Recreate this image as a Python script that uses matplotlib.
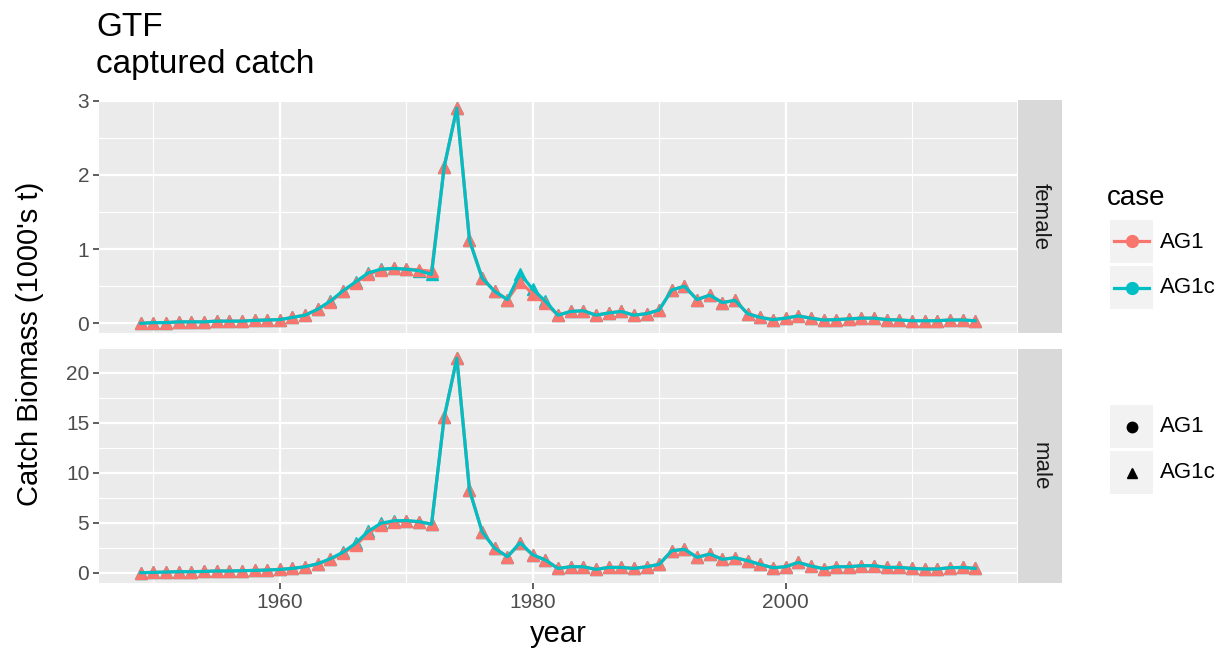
import numpy as np
import matplotlib
matplotlib.use("Agg")
import matplotlib.pyplot as plt
from matplotlib.lines import Line2D

plt.rcParams['font.family'] = ['Liberation Sans', 'DejaVu Sans']

# ---- data ----
years = list(range(1949, 2016))

female_AG1 = [0.00, 0.01, 0.01, 0.02, 0.02, 0.02, 0.03, 0.03, 0.03, 0.04, 0.045,
              0.05, 0.08, 0.11, 0.19, 0.29, 0.43, 0.55, 0.66, 0.72, 0.74, 0.73,
              0.72, 0.70, 2.11, 2.90, 1.12, 0.61, 0.43, 0.32, 0.56, 0.40, 0.27,
              0.11, 0.16, 0.17, 0.11, 0.14, 0.16, 0.11, 0.13, 0.18, 0.45, 0.50,
              0.32, 0.38, 0.28, 0.31, 0.13, 0.08, 0.05, 0.07, 0.10, 0.07, 0.045,
              0.05, 0.06, 0.07, 0.07, 0.05, 0.045, 0.035, 0.035, 0.035, 0.045,
              0.045, 0.035]
female_AG1c = [0.00, 0.01, 0.01, 0.02, 0.02, 0.02, 0.03, 0.03, 0.03, 0.04, 0.045,
               0.05, 0.08, 0.11, 0.19, 0.30, 0.44, 0.56, 0.68, 0.73, 0.74, 0.73,
               0.71, 0.66, 2.11, 2.90, 1.12, 0.61, 0.43, 0.32, 0.67, 0.46, 0.30,
               0.11, 0.16, 0.17, 0.11, 0.14, 0.16, 0.11, 0.13, 0.18, 0.45, 0.50,
               0.32, 0.38, 0.28, 0.31, 0.13, 0.08, 0.05, 0.07, 0.10, 0.07, 0.045,
               0.05, 0.06, 0.07, 0.07, 0.05, 0.045, 0.035, 0.035, 0.035, 0.045,
               0.045, 0.035]

male_AG1 = [0.00, 0.03, 0.07, 0.10, 0.10, 0.13, 0.17, 0.17, 0.20, 0.23, 0.27,
            0.33, 0.43, 0.60, 0.87, 1.33, 1.94, 2.77, 3.94, 4.77, 5.10, 5.17,
            5.10, 4.87, 15.56, 21.47, 8.28, 4.10, 2.44, 1.60, 2.94, 1.77, 1.27,
            0.43, 0.60, 0.60, 0.33, 0.53, 0.53, 0.43, 0.60, 0.83, 2.20, 2.34,
            1.54, 1.87, 1.34, 1.50, 1.20, 0.83, 0.50, 0.60, 1.03, 0.67, 0.40,
            0.60, 0.60, 0.70, 0.70, 0.53, 0.53, 0.43, 0.37, 0.37, 0.50, 0.53,
            0.43]
male_AG1c = [0.00, 0.03, 0.07, 0.10, 0.10, 0.13, 0.17, 0.17, 0.20, 0.23, 0.27,
             0.33, 0.43, 0.60, 0.90, 1.40, 2.05, 2.95, 4.15, 4.95, 5.20, 5.22,
             5.12, 4.85, 15.56, 21.47, 8.28, 4.10, 2.44, 1.60, 3.00, 1.80, 1.27,
             0.43, 0.60, 0.60, 0.33, 0.53, 0.53, 0.43, 0.60, 0.83, 2.20, 2.34,
             1.54, 1.87, 1.34, 1.50, 1.20, 0.83, 0.50, 0.60, 1.03, 0.67, 0.40,
             0.60, 0.60, 0.70, 0.70, 0.53, 0.53, 0.43, 0.37, 0.37, 0.50, 0.53,
             0.43]

facets = ['female', 'male']
cases = ['AG1', 'AG1c']
case_colors = ['#F8766D', '#00BFC4']
female_yticks = [0, 1, 2, 3]
male_yticks = [0, 5, 10, 15, 20]
xticks = [1960, 1980, 2000]

# ---- layout helpers (pixels -> figure fraction) ----
W, H = 1230, 660
def box(x0, y0, x1, y1):
    return [x0 / W, 1 - y1 / H, (x1 - x0) / W, (y1 - y0) / H]

fig = plt.figure(figsize=(W / 100, H / 100), dpi=100)
fig.patch.set_facecolor('white')

tick_col = '#4D4D4D'
panels = [
    (box(99, 100, 1017, 333), female_AG1, female_AG1c, female_yticks, (-0.13, 3.01)),
    (box(99, 349, 1017, 583), male_AG1, male_AG1c, male_yticks, (-1.03, 22.4)),
]
strips = [box(1018, 100, 1062, 333), box(1018, 349, 1062, 583)]

for i, (pos, s1, s2, yt, ylim) in enumerate(panels):
    ax = fig.add_axes(pos)
    ax.set_facecolor('#EBEBEB')
    for sp in ax.spines.values():
        sp.set_visible(False)
    ax.set_xlim(1945.7, 2018.3)
    ax.set_ylim(*ylim)
    ax.set_xticks(xticks)
    ax.set_xticks([1950, 1970, 1990, 2010], minor=True)
    ax.set_yticks(yt)
    step = yt[1] - yt[0]
    ax.set_yticks([v + step / 2 for v in yt if v + step / 2 < ylim[1]], minor=True)
    ax.grid(which='major', color='white', lw=1.6)
    ax.grid(which='minor', color='white', lw=0.8)
    ax.set_axisbelow(True)
    ax.tick_params(axis='both', which='minor', length=0)
    ax.tick_params(axis='both', which='major', length=4, width=1.1,
                   color='#333333', labelcolor=tick_col, labelsize=15, pad=3)
    if i == 0:
        ax.tick_params(axis='x', which='major', length=0, labelbottom=False)

    # points then lines (teal line sits on top)
    ax.plot(years, s2, ls='none', marker='^', ms=9, color=case_colors[1], zorder=3)
    ax.plot(years, s1, ls='none', marker='^', ms=9, color=case_colors[0], zorder=4)
    ax.plot(years, s1, color=case_colors[0], lw=2.3, zorder=5)
    ax.plot(years, s2, color=case_colors[1], lw=2.3, zorder=6)

    sax = fig.add_axes(strips[i])
    sax.set_facecolor('#D9D9D9')
    sax.set_xticks([]); sax.set_yticks([])
    for sp in sax.spines.values():
        sp.set_visible(False)
    sax.text(0.5, 0.5, facets[i], rotation=-90, ha='center', va='center',
             fontsize=16, color='#1A1A1A', transform=sax.transAxes)

# titles and axis labels
fig.text(96 / W, 1 - 27 / H, 'GTF', fontsize=24, ha='left', va='center', color='black')
fig.text(96 / W, 1 - 64 / H, 'captured catch', fontsize=24, ha='left', va='center', color='black')
fig.text(558 / W, 1 - 634 / H, 'year', fontsize=21, ha='center', va='center')
fig.text(30 / W, 1 - 344 / H, "Catch Biomass (1000's t)", fontsize=21,
         rotation=90, ha='center', va='center')

# legends (drawn by hand to get ggplot-style keys)
fig.text(1107 / W, 1 - 198 / H, 'case', fontsize=20, ha='left', va='center')
key_rows = [(242, 'colour', 0), (288, 'colour', 1), (427, 'shape', 0), (473, 'shape', 1)]
shapes = ['o', '^']
for yc, kind, j in key_rows:
    kax = fig.add_axes(box(1110, yc - 22, 1153, yc + 21))
    kax.set_facecolor('#F2F2F2')
    kax.set_xlim(0, 1); kax.set_ylim(0, 1)
    kax.set_xticks([]); kax.set_yticks([])
    for sp in kax.spines.values():
        sp.set_visible(False)
    if kind == 'colour':
        kax.add_line(Line2D([0.1, 0.9], [0.5, 0.5], color=case_colors[j], lw=2.3))
        kax.plot([0.5], [0.5], marker='o', ms=8.5, color=case_colors[j])
    else:
        kax.plot([0.5], [0.5], marker=shapes[j], ms=7.5, color='black')
    fig.text(1160 / W, 1 - yc / H, cases[j], fontsize=16, ha='left', va='center')

fig.savefig('out.png', dpi=100)
